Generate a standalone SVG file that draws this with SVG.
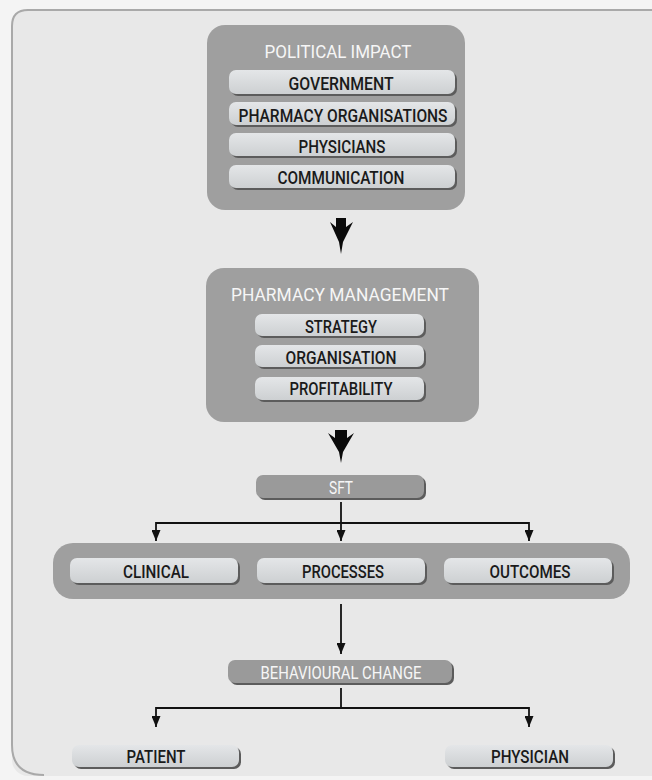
<svg xmlns="http://www.w3.org/2000/svg" width="652" height="780" viewBox="0 0 652 780">
<defs>
<linearGradient id="pillGrad" x1="0" y1="0" x2="0" y2="1">
<stop offset="0" stop-color="#e4e6e8"/>
<stop offset="1" stop-color="#cdd0d2"/>
</linearGradient>
<marker id="ah" markerUnits="userSpaceOnUse" markerWidth="12" markerHeight="9" refX="11" refY="4.5" orient="auto">
<path d="M0,0 L11,4.5 L0,9 z" fill="#111"/>
</marker>
</defs>
<style>
.big{fill:#9f9f9f}
.shadow{fill:#5c5c5c}
.pill{fill:url(#pillGrad)}
.dark{fill:#9a9a9a}
.pt{font-family:Roboto,"Liberation Sans",sans-serif;font-size:18.5px;font-weight:500;fill:#1a1a1a;text-anchor:middle}
.wt{font-family:Roboto,"Liberation Sans",sans-serif;font-size:17.5px;font-weight:400;fill:#f6f6f6;text-anchor:middle}
.ln{fill:none;stroke:#111;stroke-width:1.8}
.thick{fill:#0a0a0a}
</style>
<rect x="0" y="0" width="652" height="780" fill="#f4f4f4"/>
<rect x="12" y="10" width="670" height="766" rx="16" fill="#e8e8e8"/>
<path d="M44 775 Q12 775 12 745 L12 26 Q12 10 28 10 L652 10" fill="none" stroke="#a9a9a9" stroke-width="2"/>

<g id="political-impact">
<rect class="big" x="207" y="25" width="258" height="185" rx="18"/>
<text class="wt" x="338" y="58" textLength="147" lengthAdjust="spacingAndGlyphs">POLITICAL IMPACT</text>
</g>
<g id="government">
<rect class="shadow" x="231" y="72" width="226" height="24" rx="7"/>
<rect class="pill" x="229" y="70" width="226" height="24" rx="7"/>
<text class="pt" x="341" y="90" textLength="105" lengthAdjust="spacingAndGlyphs">GOVERNMENT</text>
</g>
<g id="pharmacy-organisations">
<rect class="shadow" x="231" y="104" width="226" height="23" rx="7"/>
<rect class="pill" x="229" y="102" width="226" height="23" rx="7"/>
<text class="pt" x="343" y="122" textLength="209" lengthAdjust="spacingAndGlyphs">PHARMACY ORGANISATIONS</text>
</g>
<g id="physicians">
<rect class="shadow" x="231" y="135" width="226" height="23" rx="7"/>
<rect class="pill" x="229" y="133" width="226" height="23" rx="7"/>
<text class="pt" x="342" y="153" textLength="87" lengthAdjust="spacingAndGlyphs">PHYSICIANS</text>
</g>
<g id="communication">
<rect class="shadow" x="231" y="167" width="226" height="23" rx="7"/>
<rect class="pill" x="229" y="165" width="226" height="23" rx="7"/>
<text class="pt" x="341" y="184" textLength="127" lengthAdjust="spacingAndGlyphs">COMMUNICATION</text>
</g>

<g id="pharmacy-management">
<rect class="big" x="206" y="268" width="273" height="154" rx="18"/>
<text class="wt" x="340" y="301" textLength="218" lengthAdjust="spacingAndGlyphs">PHARMACY MANAGEMENT</text>
</g>
<g id="strategy">
<rect class="shadow" x="257" y="316" width="169" height="22" rx="7"/>
<rect class="pill" x="255" y="314" width="169" height="22" rx="7"/>
<text class="pt" x="341" y="333" textLength="72" lengthAdjust="spacingAndGlyphs">STRATEGY</text>
</g>
<g id="organisation">
<rect class="shadow" x="257" y="347" width="169" height="22" rx="7"/>
<rect class="pill" x="255" y="345" width="169" height="22" rx="7"/>
<text class="pt" x="341" y="364" textLength="111" lengthAdjust="spacingAndGlyphs">ORGANISATION</text>
</g>
<g id="profitability">
<rect class="shadow" x="257" y="379" width="169" height="23" rx="7"/>
<rect class="pill" x="255" y="377" width="169" height="23" rx="7"/>
<text class="pt" x="341" y="395" textLength="103" lengthAdjust="spacingAndGlyphs">PROFITABILITY</text>
</g>

<g id="sft">
<rect class="shadow" x="258" y="477" width="168" height="23" rx="7"/>
<rect class="dark" x="256" y="475" width="168" height="23" rx="7"/>
<text class="wt" x="341" y="494" textLength="24" lengthAdjust="spacingAndGlyphs">SFT</text>
</g>

<g id="sft-band">
<rect class="big" x="53" y="543" width="577" height="56" rx="20"/>
</g>
<g id="clinical">
<rect class="shadow" x="72" y="560" width="168" height="25" rx="7"/>
<rect class="pill" x="70" y="558" width="168" height="25" rx="7"/>
<text class="pt" x="156" y="578" textLength="66" lengthAdjust="spacingAndGlyphs">CLINICAL</text>
</g>
<g id="processes">
<rect class="shadow" x="259" y="560" width="168" height="25" rx="7"/>
<rect class="pill" x="257" y="558" width="168" height="25" rx="7"/>
<text class="pt" x="343" y="578" textLength="82" lengthAdjust="spacingAndGlyphs">PROCESSES</text>
</g>
<g id="outcomes">
<rect class="shadow" x="446" y="560" width="168" height="25" rx="7"/>
<rect class="pill" x="444" y="558" width="168" height="25" rx="7"/>
<text class="pt" x="530" y="578" textLength="81" lengthAdjust="spacingAndGlyphs">OUTCOMES</text>
</g>

<g id="behavioural-change">
<rect class="shadow" x="230" y="662" width="224" height="23" rx="7"/>
<rect class="dark" x="228" y="660" width="224" height="23" rx="7"/>
<text class="wt" x="341" y="679" textLength="161" lengthAdjust="spacingAndGlyphs">BEHAVIOURAL CHANGE</text>
</g>

<g id="patient">
<rect class="shadow" x="74" y="747" width="167" height="22" rx="7"/>
<rect class="pill" x="72" y="745" width="167" height="22" rx="7"/>
<text class="pt" x="156" y="763" textLength="59" lengthAdjust="spacingAndGlyphs">PATIENT</text>
</g>
<g id="physician">
<rect class="shadow" x="447" y="747" width="168" height="22" rx="7"/>
<rect class="pill" x="445" y="745" width="168" height="22" rx="7"/>
<text class="pt" x="530" y="763" textLength="78" lengthAdjust="spacingAndGlyphs">PHYSICIAN</text>
</g>

<g id="connectors">
<path class="thick" d="M336 218 L346 218 L346 227 L353 222 L343 242 L341 254 L339 242 L330 222 L336 227 Z"/>
<path class="thick" d="M335 430 L347 430 L347 438 L354 433 L343 452 L341 463 L339 452 L328 433 L335 438 Z"/>
<path class="ln" d="M341 502 V541" marker-end="url(#ah)"/>
<path class="ln" d="M156 523 H529"/>
<path class="ln" d="M156 522.1 V541" marker-end="url(#ah)"/>
<path class="ln" d="M529 522.1 V541" marker-end="url(#ah)"/>
<path class="ln" d="M341 604 V654" marker-end="url(#ah)"/>
<path class="ln" d="M341 688 V708"/>
<path class="ln" d="M156 708 H529"/>
<path class="ln" d="M156 707.1 V727" marker-end="url(#ah)"/>
<path class="ln" d="M529 707.1 V727" marker-end="url(#ah)"/>
</g>
</svg>
